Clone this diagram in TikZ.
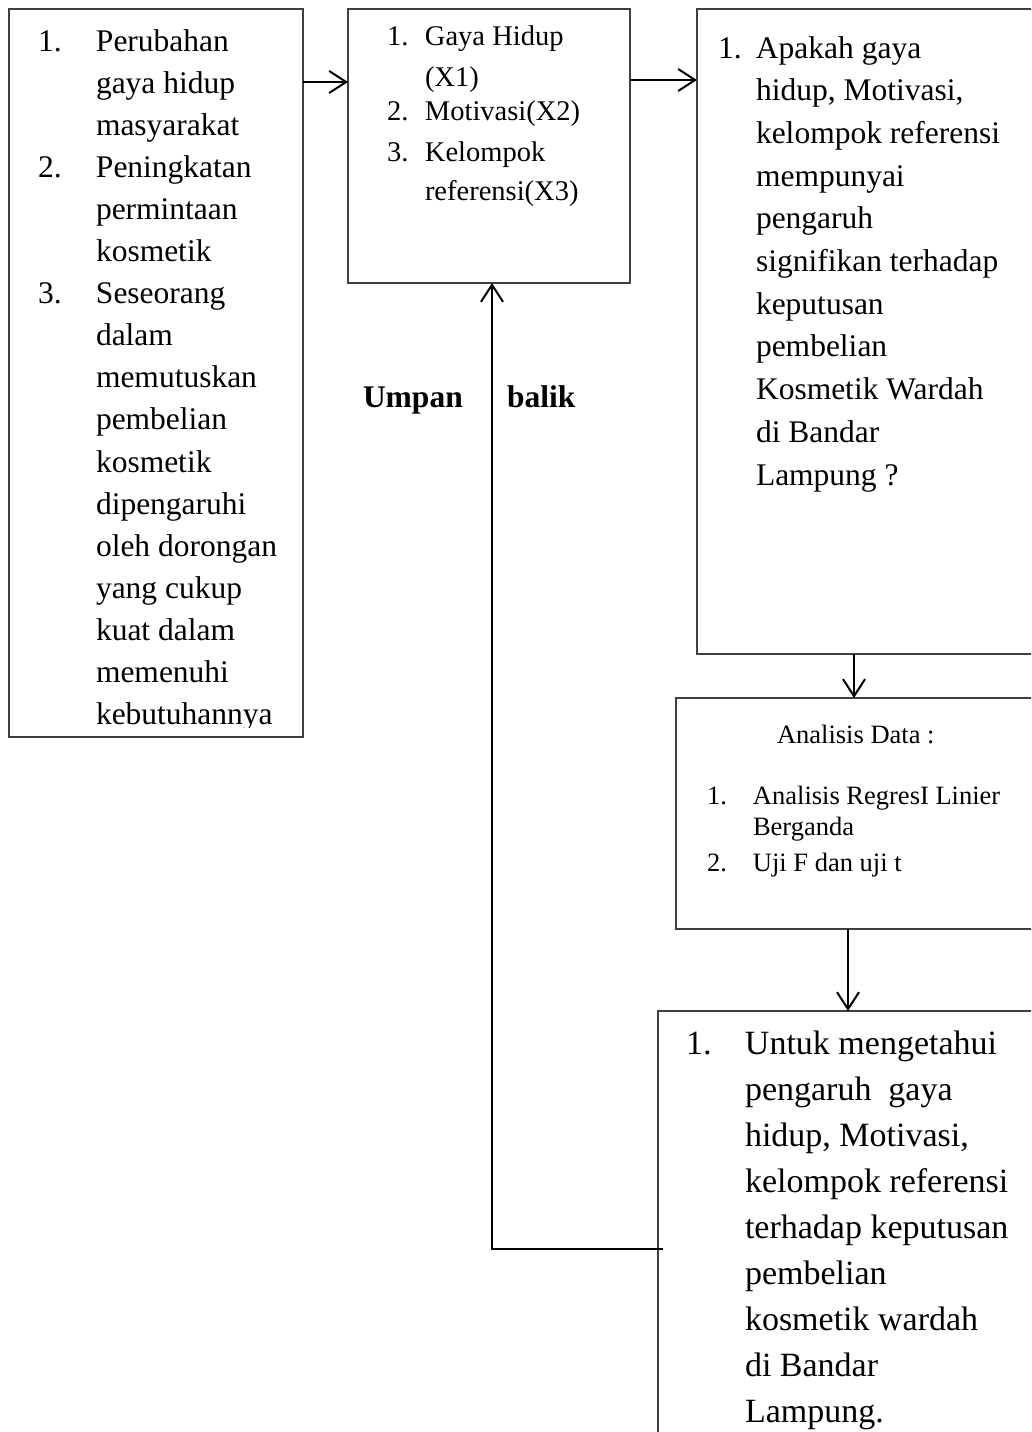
\documentclass[tikz,border=0pt]{standalone}
\usepackage{fontspec}
\setmainfont{Liberation Serif}
\usetikzlibrary{arrows.meta,calc}
\begin{document}
\begin{tikzpicture}[x=1pt,y=-1pt,
  box/.style={draw=black!75,line width=1.3pt,rectangle,inner sep=0pt,outer sep=0pt,anchor=north west},
  txt/.style={inner sep=0pt,outer sep=0pt,anchor=base west},
  arr/.style={line width=2pt,-{Straight Barb[length=17pt,width=22pt]}},
  fb/.style={line width=2.6pt,-{Straight Barb[length=17pt,width=22pt,line width=2pt]}}]
\useasboundingbox (0,0) rectangle (1031,1432);
\clip (0,0) rectangle (1031,1432);
% boxes
\node[box,minimum width=294pt,minimum height=728pt] (A) at (9,9) {};
\node[box,minimum width=282pt,minimum height=274pt] (B) at (348,9) {};
\node[box,minimum width=380pt,minimum height=645pt] (C) at (697,9) {};
\node[box,minimum width=400pt,minimum height=231pt] (D) at (676,698) {};
\node[box,minimum width=420pt,minimum height=460pt] (E) at (658,1011) {};
% box A text
\begin{scope}
\clip (9,9) rectangle (303,727);
\node[txt] (Atext) at (38,51) {\fontsize{31.5}{42.1}\selectfont
\begin{tabular}[t]{@{}p{58pt}@{}l@{}}
1. & Perubahan\\
   & gaya hidup\\
   & masyarakat\\
2. & Peningkatan\\
   & permintaan\\
   & kosmetik\\
3. & Seseorang\\
   & dalam\\
   & memutuskan\\
   & pembelian\\
   & kosmetik\\
   & dipengaruhi\\
   & oleh dorongan\\
   & yang cukup\\
   & kuat dalam\\
   & memenuhi\\
   & kebutuhannya
\end{tabular}};
\end{scope}
% box B text
\node[txt] (Btext) at (387,45) {\fontsize{28.5}{39}\selectfont
\begin{tabular}[t]{@{}p{38pt}@{}l@{}}
1. & Gaya Hidup\\[2pt]
   & (X1)\\[-5pt]
2. & Motivasi(X2)\\[2pt]
3. & Kelompok\\
   & referensi(X3)
\end{tabular}};
% box C text
\node[txt] (Ctext) at (718,58) {\fontsize{31.5}{42.7}\selectfont
\begin{tabular}[t]{@{}p{38pt}@{}l@{}}
1. & Apakah gaya\\
   & hidup, Motivasi,\\
   & kelompok referensi\\
   & mempunyai\\
   & pengaruh\\
   & signifikan terhadap\\
   & keputusan\\
   & pembelian\\
   & Kosmetik Wardah\\
   & di Bandar\\
   & Lampung ?
\end{tabular}};
% box D text
\node[txt] (Dtitle) at (777,743) {\fontsize{26.5}{31}\selectfont Analisis Data :};
\node[txt] (Dtext) at (707,804) {\fontsize{26.5}{31}\selectfont
\begin{tabular}[t]{@{}p{46pt}@{}l@{}}
1. & Analisis RegresI Linier\\
   & Berganda\\[5pt]
2. & Uji F dan uji t
\end{tabular}};
% box E text
\node[txt] (Etext) at (686,1054) {\fontsize{34}{46}\selectfont
\begin{tabular}[t]{@{}p{59pt}@{}l@{}}
1. & Untuk mengetahui\\
   & pengaruh\ \ gaya\\
   & hidup, Motivasi,\\
   & kelompok referensi\\
   & terhadap keputusan\\
   & pembelian\\
   & kosmetik wardah\\
   & di Bandar\\
   & Lampung.
\end{tabular}};
% labels
\node[txt] (umpan) at (363,407) {\fontsize{31.5}{38}\selectfont\bfseries Umpan};
\node[txt] (balik) at (507,407) {\fontsize{31.5}{38}\selectfont\bfseries balik};
% arrows
\draw[arr] ($(A.north east)+(0,73)$) -- ($(B.north west)+(0,73)$);
\draw[arr] ($(B.north east)+(0,71)$) -- ($(C.north west)+(0,71)$);
\draw[arr] ($(C.south west)+(157,0)$) -- ($(D.north west)+(178,0)$);
\draw[arr] ($(D.south west)+(172,0)$) -- ($(E.north west)+(190,0)$);
\coordinate (fbstart) at ($(E.north west)+(5,238)$);
\draw[fb] (fbstart) -| ($(B.south west)+(144,0)$);
\end{tikzpicture}
\end{document}
